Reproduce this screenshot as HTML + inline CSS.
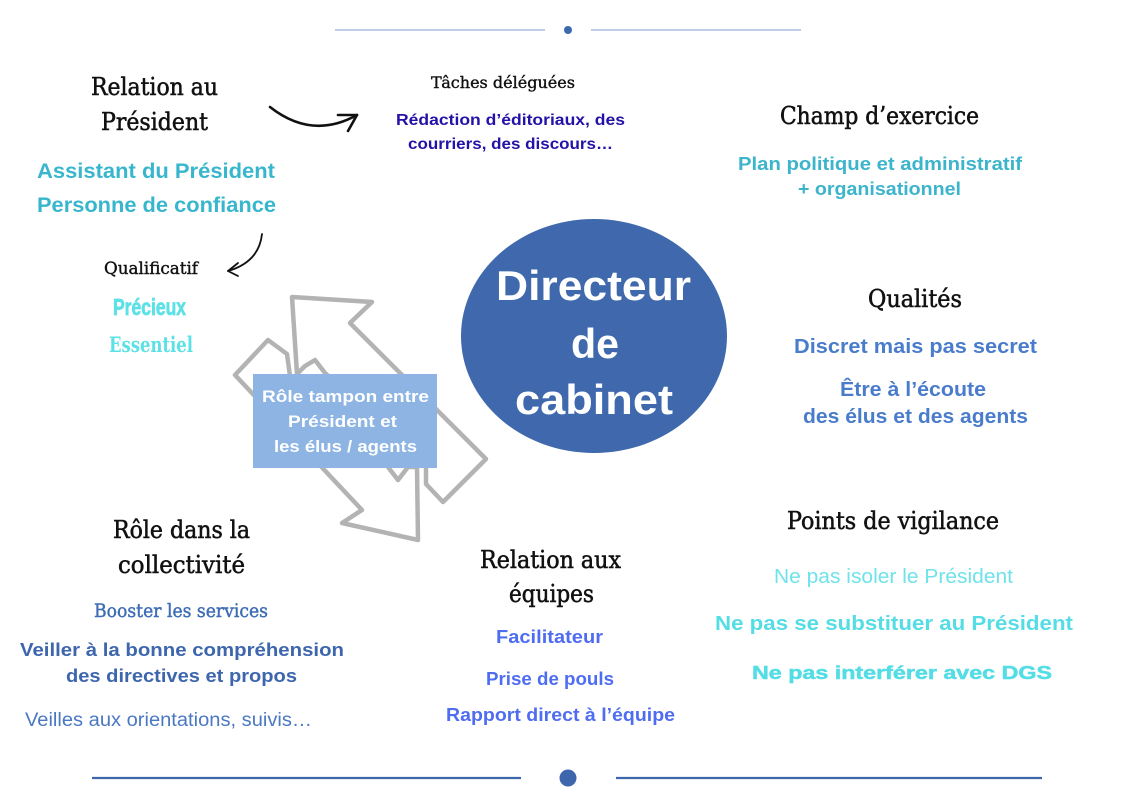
<!DOCTYPE html>
<html>
<head>
<meta charset="utf-8">
<style>
html,body{margin:0;padding:0;background:#fff;}
svg{display:block;}
.h{font-family:"DejaVu Serif","Liberation Serif",serif;fill:#111;stroke:#111;stroke-width:0.55;}
.s{font-family:"Liberation Sans","DejaVu Sans",sans-serif;font-weight:bold;}
.t{font-family:"Liberation Sans","DejaVu Sans",sans-serif;font-weight:normal;}
</style>
</head>
<body>
<svg width="1136" height="800" viewBox="0 0 1136 800" xmlns="http://www.w3.org/2000/svg">
<rect width="1136" height="800" fill="#fff"/>

<!-- top divider -->
<line x1="335" y1="30" x2="545" y2="30" stroke="#a9bde0" stroke-width="1.6"/>
<circle cx="568" cy="30" r="4" fill="#3d6aad"/>
<line x1="591" y1="30" x2="801" y2="30" stroke="#a9bde0" stroke-width="1.6"/>

<!-- bottom divider -->
<line x1="92" y1="778" x2="521" y2="778" stroke="#3d66ad" stroke-width="2.2"/>
<circle cx="568" cy="778" r="8.5" fill="#3d66ad"/>
<line x1="616" y1="778" x2="1042" y2="778" stroke="#3d66ad" stroke-width="2.2"/>

<!-- black arrows -->
<path d="M270,107 Q312,140 357,115" fill="none" stroke="#111" stroke-width="2.6" stroke-linecap="round"/>
<path d="M338,115 L357,115 L348,131" fill="none" stroke="#111" stroke-width="2.6" stroke-linecap="round" stroke-linejoin="round"/>
<path d="M262,234 Q259,262 228,271" fill="none" stroke="#111" stroke-width="1.8" stroke-linecap="round"/>
<path d="M238,263 L228,271 L238,276" fill="none" stroke="#111" stroke-width="1.8" stroke-linecap="round" stroke-linejoin="round"/>

<!-- recycle / exchange arrows outline -->
<polygon points="292,297 372,302 350,323 486,459 443,502 426,484 426,465 325,373 315,360 305,366 297,374" fill="none" stroke="#b3b3b3" stroke-width="4.5" stroke-linejoin="round"/>
<polygon points="418,540 342,523 362,510 235,375 268,340 287,354 290,376 388,467 398,480 408,467 417,467" fill="none" stroke="#b3b3b3" stroke-width="4.5" stroke-linejoin="round"/>

<!-- role box -->
<rect x="253" y="374" width="184" height="94" fill="#8db4e2"/>
<text class="s" x="262" y="402" font-size="17" fill="#fff" textLength="167" lengthAdjust="spacingAndGlyphs">Rôle tampon entre</text>
<text class="s" x="288" y="427" font-size="17" fill="#fff" textLength="109" lengthAdjust="spacingAndGlyphs">Président et</text>
<text class="s" x="274" y="452" font-size="17" fill="#fff" textLength="143" lengthAdjust="spacingAndGlyphs">les élus / agents</text>

<!-- central ellipse -->
<ellipse cx="594" cy="336" rx="133" ry="117" fill="#3f69ac"/>
<text class="s" x="496" y="300" font-size="42" fill="#fff" textLength="195" lengthAdjust="spacingAndGlyphs">Directeur</text>
<text class="s" x="571" y="358" font-size="42" fill="#fff" textLength="48" lengthAdjust="spacingAndGlyphs">de</text>
<text class="s" x="515" y="414" font-size="42" fill="#fff" textLength="158" lengthAdjust="spacingAndGlyphs">cabinet</text>

<!-- Relation au Président -->
<text class="h" x="91" y="95" font-size="24" textLength="127" lengthAdjust="spacingAndGlyphs">Relation au</text>
<text class="h" x="101" y="130" font-size="24" textLength="107" lengthAdjust="spacingAndGlyphs">Président</text>
<text class="s" x="37" y="178" font-size="21" fill="#38b6cd" textLength="238" lengthAdjust="spacingAndGlyphs">Assistant du Président</text>
<text class="s" x="37" y="212" font-size="21" fill="#38b6cd" textLength="239" lengthAdjust="spacingAndGlyphs">Personne de confiance</text>

<!-- Qualificatif -->
<text class="h" x="104" y="274" font-size="17" textLength="94" lengthAdjust="spacingAndGlyphs" style="stroke-width:0.4">Qualificatif</text>
<text class="s" x="113" y="315" font-size="23" fill="#5ce1e6" stroke="#5ce1e6" stroke-width="0.7" textLength="73" lengthAdjust="spacingAndGlyphs">Précieux</text>
<text class="h" x="109" y="352" font-size="21" font-weight="bold" style="fill:#5ce1e6;stroke:none" textLength="84" lengthAdjust="spacingAndGlyphs">Essentiel</text>

<!-- Tâches déléguées -->
<text class="h" x="431" y="88" font-size="16" textLength="144" lengthAdjust="spacingAndGlyphs" style="stroke-width:0.4">Tâches déléguées</text>
<text class="s" x="396" y="125" font-size="16" fill="#2411a8" textLength="229" lengthAdjust="spacingAndGlyphs">Rédaction d’éditoriaux, des</text>
<text class="s" x="408" y="149" font-size="16" fill="#2411a8" textLength="205" lengthAdjust="spacingAndGlyphs">courriers, des discours…</text>

<!-- Champ d'exercice -->
<text class="h" x="780" y="124" font-size="24" textLength="199" lengthAdjust="spacingAndGlyphs">Champ d’exercice</text>
<text class="s" x="738" y="170" font-size="18" fill="#3cb4cc" textLength="284" lengthAdjust="spacingAndGlyphs">Plan politique et administratif</text>
<text class="s" x="798" y="195" font-size="18" fill="#3cb4cc" textLength="163" lengthAdjust="spacingAndGlyphs">+ organisationnel</text>

<!-- Qualités -->
<text class="h" x="868" y="307" font-size="24" textLength="94" lengthAdjust="spacingAndGlyphs">Qualités</text>
<text class="s" x="794" y="353" font-size="20" fill="#4a7ccc" textLength="243" lengthAdjust="spacingAndGlyphs">Discret mais pas secret</text>
<text class="s" x="840" y="396" font-size="20" fill="#4a7ccc" textLength="146" lengthAdjust="spacingAndGlyphs">Être à l’écoute</text>
<text class="s" x="803" y="423" font-size="20" fill="#4a7ccc" textLength="225" lengthAdjust="spacingAndGlyphs">des élus et des agents</text>

<!-- Points de vigilance -->
<text class="h" x="787" y="529" font-size="24" textLength="212" lengthAdjust="spacingAndGlyphs">Points de vigilance</text>
<text class="t" x="774" y="583" font-size="20" fill="#6fe2ea" textLength="239" lengthAdjust="spacingAndGlyphs">Ne pas isoler le Président</text>
<text class="s" x="715" y="630" font-size="20" fill="#55dde6" textLength="358" lengthAdjust="spacingAndGlyphs">Ne pas se substituer au Président</text>
<text class="s" x="752" y="679" font-size="18" fill="#55dde6" stroke="#55dde6" stroke-width="0.5" textLength="300" lengthAdjust="spacingAndGlyphs">Ne pas interférer avec DGS</text>

<!-- Rôle dans la collectivité -->
<text class="h" x="113" y="538" font-size="24" textLength="137" lengthAdjust="spacingAndGlyphs">Rôle dans la</text>
<text class="h" x="118" y="573" font-size="24" textLength="127" lengthAdjust="spacingAndGlyphs">collectivité</text>
<text class="h" x="94" y="617" font-size="19" style="fill:#3e6db5;stroke:#3e6db5;stroke-width:0.45" textLength="174" lengthAdjust="spacingAndGlyphs">Booster les services</text>
<text class="s" x="20" y="656" font-size="18" fill="#3d66ad" textLength="324" lengthAdjust="spacingAndGlyphs">Veiller à la bonne compréhension</text>
<text class="s" x="66" y="682" font-size="18" fill="#3d66ad" textLength="231" lengthAdjust="spacingAndGlyphs">des directives et propos</text>
<text class="t" x="25" y="726" font-size="19" fill="#4a78c2" textLength="287" lengthAdjust="spacingAndGlyphs">Veilles aux orientations, suivis…</text>

<!-- Relation aux équipes -->
<text class="h" x="480" y="568" font-size="24" textLength="141" lengthAdjust="spacingAndGlyphs">Relation aux</text>
<text class="h" x="509" y="602" font-size="24" textLength="85" lengthAdjust="spacingAndGlyphs">équipes</text>
<text class="s" x="496" y="643" font-size="18" fill="#4f6df0" textLength="107" lengthAdjust="spacingAndGlyphs">Facilitateur</text>
<text class="s" x="486" y="685" font-size="18" fill="#4f6df0" textLength="128" lengthAdjust="spacingAndGlyphs">Prise de pouls</text>
<text class="s" x="446" y="721" font-size="18" fill="#4f6df0" textLength="229" lengthAdjust="spacingAndGlyphs">Rapport direct à l’équipe</text>
</svg>
</body>
</html>
